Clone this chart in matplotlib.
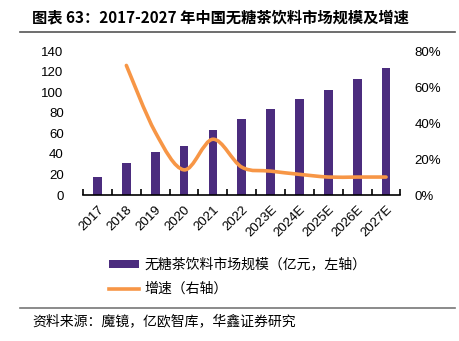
import numpy as np
import matplotlib
matplotlib.use('Agg')
import matplotlib.pyplot as plt
from matplotlib.path import Path
from matplotlib.patches import PathPatch, Patch
from matplotlib.lines import Line2D
from matplotlib.ticker import FuncFormatter

plt.rcParams['font.family'] = ['Liberation Sans', 'Noto Sans CJK SC', 'DejaVu Sans']
cjk = ['Noto Sans CJK SC', 'DejaVu Sans']

#************ data ******************
years = ['2017', '2018', '2019', '2020', '2021', '2022',
         '2023E', '2024E', '2025E', '2026E', '2027E']
market_size = [18, 31, 42, 48, 63.5, 73.5, 83.3, 93, 102.4, 113, 124]   # 亿元
growth = [None, 0.72, 0.35, 0.14, 0.31, 0.155, 0.133, 0.115, 0.10, 0.10, 0.10]

title = '图表 63：2017-2027 年中国无糖茶饮料市场规模及增速'
bar_label = '无糖茶饮料市场规模（亿元，左轴）'
line_label = '增速（右轴）'
source = '资料来源：魔镜，亿欧智库，华鑫证券研究'

bar_color = '#4B2C7E'
line_color = '#F79646'
#*************************************

fig = plt.figure(figsize=(4.59, 3.41), dpi=100)
ax = fig.add_axes([0.181, 0.428, 0.6915, 0.4223])
ax2 = ax.twinx()

x = np.arange(len(years))
ax.bar(x, market_size, width=0.3, color=bar_color, zorder=2)

# smoothed line (catmull-rom -> bezier, like excel "smoothed line")
gx = [i for i, g in enumerate(growth) if g is not None]
gy = [g for g in growth if g is not None]
pts = np.column_stack([gx, gy])
verts = [pts[0]]
codes = [Path.MOVETO]
n = len(pts)
for i in range(n - 1):
    p0 = pts[max(i - 1, 0)]
    p1 = pts[i]
    p2 = pts[i + 1]
    p3 = pts[min(i + 2, n - 1)]
    c1 = p1 + (p2 - p0) / 6.0
    c2 = p2 - (p3 - p1) / 6.0
    verts += [c1, c2, p2]
    codes += [Path.CURVE4] * 3
ax2.add_patch(PathPatch(Path(verts, codes), facecolor='none', edgecolor=line_color,
                        lw=2.6, capstyle='round', zorder=3))

ax.set_xlim(-0.5, len(years) - 0.5)
ax.set_ylim(0, 140)
ax.set_yticks(range(0, 141, 20))
ax2.set_ylim(0, 0.8)
ax2.set_yticks([0, 0.2, 0.4, 0.6, 0.8])
ax2.yaxis.set_major_formatter(FuncFormatter(lambda v, p: '%d%%' % round(v * 100)))

for a in (ax, ax2):
    for s in ['top', 'left', 'right']:
        a.spines[s].set_visible(False)
    a.tick_params(axis='y', length=0, labelsize=9.5)
ax2.spines['bottom'].set_visible(False)
ax.spines['bottom'].set_linewidth(1.2)
ax.tick_params(axis='y', pad=14)
ax2.tick_params(axis='y', pad=10)

ax.set_xticks(x)
ax.set_xticklabels(years, rotation=45, ha='right', rotation_mode='anchor', fontsize=9.5)
ax.tick_params(axis='x', which='major', length=0, pad=6)
ax.set_xticks(np.arange(-0.5, len(years), 1), minor=True)
ax.tick_params(axis='x', which='minor', direction='in', length=4, width=1.2)

handles = [Patch(facecolor=bar_color, edgecolor='none'),
           Line2D([0], [0], color=line_color, lw=2.6)]
fig.legend(handles, [bar_label, line_label], loc='upper left',
           bbox_to_anchor=(0.211, 0.281), frameon=False,
           prop={'family': cjk, 'size': 10}, handlelength=2.15, handleheight=0.5,
           handletextpad=0.4, labelspacing=0.75)

fig.text(0.07, 0.95, title, fontsize=11, fontweight='bold', family=cjk, va='center')
fig.add_artist(Line2D([0.044, 0.991], [1 - 32 / 341] * 2, color='#555555', lw=1.2))
fig.add_artist(Line2D([0.044, 0.991], [1 - 307.5 / 341] * 2, color='#777777', lw=1.2))
fig.text(0.07, 1 - 321 / 341, source, fontsize=10, family=cjk, va='center')

fig.savefig('out.png', dpi=100)
